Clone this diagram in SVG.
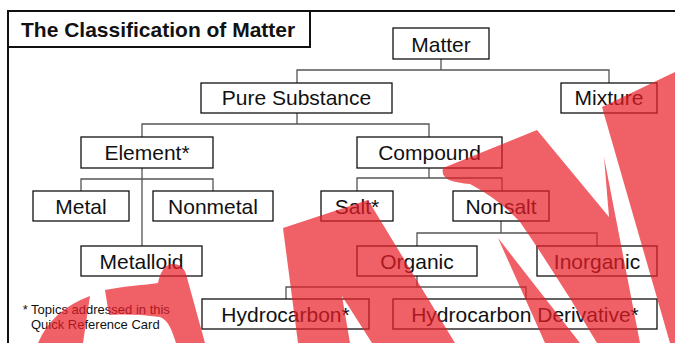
<svg xmlns="http://www.w3.org/2000/svg" width="675" height="343" viewBox="0 0 675 343">
<style>
.box{fill:#fff;stroke:#111;stroke-width:1.3}
.lbl{font-family:"Liberation Sans",Arial,sans-serif;font-size:21px;fill:#111;text-anchor:middle}
.conn{fill:none;stroke:#555;stroke-width:1.3}
.frame{fill:none;stroke:#111;stroke-width:2}
.note{font-family:"Liberation Sans",Arial,sans-serif;font-size:13px;fill:#111}
.ov{fill:rgb(234,29,39);fill-opacity:0.7}
</style>
<rect width="675" height="343" fill="#fff"/>
<g id="frame">
<path class="frame" d="M8,343 V11 H675"/>
<rect class="frame" x="8" y="11" width="302" height="36" fill="#fff"/>
<text x="21" y="36.5" style="font-family:'Liberation Sans',Arial,sans-serif;font-size:21px;font-weight:bold;fill:#111">The Classification of Matter</text>
</g>
<g id="connectors">
<path class="conn" d="M441,59 V70 M297,83 V70 H609 V83"/>
<path class="conn" d="M297,113 V124 M142,137 V124 H429 V137"/>
<path class="conn" d="M142,168 V246 M81,191 V179 H213 V191"/>
<path class="conn" d="M429,168 V178 M357,191 V178 H502 V191"/>
<path class="conn" d="M501,221 V233 M417,246 V233 H597 V246"/>
<path class="conn" d="M417,276 V287 M286,299 V287 H526 V299"/>
</g>
<g id="matter"><rect class="box" x="393" y="28" width="96" height="31"/><text class="lbl" x="441" y="51.5">Matter</text></g>
<g id="pure-substance"><rect class="box" x="201" y="83" width="191" height="30"/><text class="lbl" x="296.5" y="105">Pure Substance</text></g>
<g id="mixture"><rect class="box" x="561" y="83" width="96" height="30"/><text class="lbl" x="609" y="105">Mixture</text></g>
<g id="element"><rect class="box" x="81" y="137" width="132" height="31"/><text class="lbl" x="147" y="160">Element*</text></g>
<g id="compound"><rect class="box" x="357" y="137" width="145" height="31"/><text class="lbl" x="429.5" y="160">Compound</text></g>
<g id="metal"><rect class="box" x="33" y="191" width="96" height="30"/><text class="lbl" x="81" y="213.5">Metal</text></g>
<g id="nonmetal"><rect class="box" x="153" y="191" width="120" height="30"/><text class="lbl" x="213" y="213.5">Nonmetal</text></g>
<g id="salt"><rect class="box" x="321" y="191" width="72" height="30"/><text class="lbl" x="357" y="213.5">Salt*</text></g>
<g id="nonsalt"><rect class="box" x="453" y="191" width="96" height="30"/><text class="lbl" x="501" y="213.5">Nonsalt</text></g>
<g id="metalloid"><rect class="box" x="81" y="246" width="121" height="30"/><text class="lbl" x="141.5" y="268.5">Metalloid</text></g>
<g id="organic"><rect class="box" x="357" y="246" width="120" height="30"/><text class="lbl" x="417" y="268.5">Organic</text></g>
<g id="inorganic"><rect class="box" x="537" y="246" width="120" height="30"/><text class="lbl" x="597" y="268.5">Inorganic</text></g>
<g id="hydrocarbon"><rect class="box" x="202" y="299" width="167" height="30"/><text class="lbl" x="285.5" y="321.5">Hydrocarbon*</text></g>
<g id="hydrocarbon-derivative"><rect class="box" x="393" y="299" width="264" height="30"/><text class="lbl" x="525" y="321.5">Hydrocarbon Derivative*</text></g>
<g id="footnote">
<text class="note" x="22.7" y="314">* Topics addressed in this</text>
<text class="note" x="31" y="329">Quick Reference Card</text>
</g>
<g id="overlay">
<path class="ov" d="M38,343 Q52,310 90,296 L83,343 Z"/>
<path class="ov" d="M105,290 C125,286 145,285 158,283 C160,272 165,264 173,264 C180,264 184,268 186,274 L205,343 L176,343 C172,330 168,320 160,317 C140,314 120,314 109,315 Z"/>
<path class="ov" d="M283,228 L368,200 L455,343 L372,343 L342,296 L350,343 L298,343 Z"/>
<path class="ov" d="M498,238 L580,343 L545,343 Z"/>
<path class="ov" d="M443,168 L537,130 L609,217 L604,157 L640,343 L597,343 Q560,280 520,222 Q500,200 470,184 Q458,183 449,180 Q441,176 443,168 Z"/>
<path class="ov" d="M602,107 L675,72 L675,343 L670,343 Z"/>
</g>
</svg>
